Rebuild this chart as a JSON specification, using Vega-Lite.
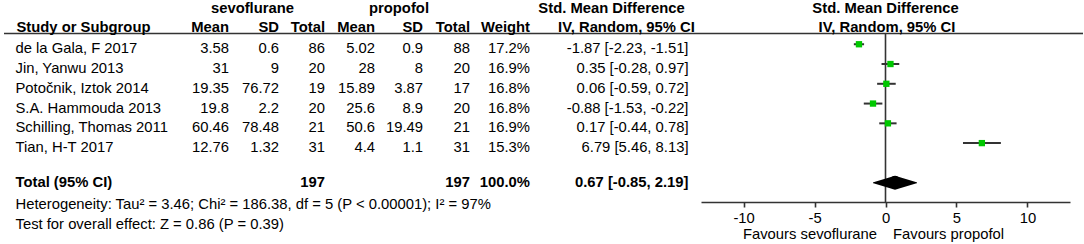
{
  "$schema": "https://vega.github.io/schema/vega-lite/v6.json",
  "padding": {"left": 3, "right": 2, "top": 0, "bottom": 0},
  "spacing": 0,
  "bounds": "flush",
  "config": {
    "view": {"stroke": null},
    "text": {"font": "Liberation Sans", "fontSize": 14.8, "color": "#000"},
    "axis": {"labelFont": "Liberation Sans"}
  },
  "datasets": {
    "studies": [
      {"study": "de la Gala, F 2017", "m1": 3.58, "sd1": 0.6, "n1": 86, "m2": 5.02, "sd2": 0.9, "n2": 88, "weight": 17.2, "smd": -1.87, "lo": -2.23, "hi": -1.51},
      {"study": "Jin, Yanwu 2013", "m1": 31, "sd1": 9, "n1": 20, "m2": 28, "sd2": 8, "n2": 20, "weight": 16.9, "smd": 0.35, "lo": -0.28, "hi": 0.97},
      {"study": "Potočnik, Iztok  2014", "m1": 19.35, "sd1": 76.72, "n1": 19, "m2": 15.89, "sd2": 3.87, "n2": 17, "weight": 16.8, "smd": 0.06, "lo": -0.59, "hi": 0.72},
      {"study": "S.A. Hammouda 2013", "m1": 19.8, "sd1": 2.2, "n1": 20, "m2": 25.6, "sd2": 8.9, "n2": 20, "weight": 16.8, "smd": -0.88, "lo": -1.53, "hi": -0.22},
      {"study": "Schilling, Thomas 2011", "m1": 60.46, "sd1": 78.48, "n1": 21, "m2": 50.6, "sd2": 19.49, "n2": 21, "weight": 16.9, "smd": 0.17, "lo": -0.44, "hi": 0.78},
      {"study": "Tian, H-T 2017", "m1": 12.76, "sd1": 1.32, "n1": 31, "m2": 4.4, "sd2": 1.1, "n2": 31, "weight": 15.3, "smd": 6.79, "lo": 5.46, "hi": 8.13}
    ],
    "total": [
      {"study": "Total (95% CI)", "n1": 197, "n2": 197, "weight": 100, "smd": 0.67, "lo": -0.85, "hi": 2.19}
    ],
    "notes": [
      {"row": "Het", "text": "Heterogeneity: Tau² = 3.46; Chi² = 186.38, df = 5 (P < 0.00001); I² = 97%"},
      {"row": "Test", "text": "Test for overall effect: Z = 0.86 (P = 0.39)"}
    ]
  },
  "hconcat": [
    {
      "width": 225, "height": 202,
      "layer": [
        {"data": {"values": [{}]}, "mark": {"type": "rule", "color": "#333", "strokeWidth": 1.6, "yOffset": 9},
         "encoding": {"y": {"datum": "h2", "scale": {"type": "point", "domain": ["h1","h2","de la Gala, F 2017","Jin, Yanwu 2013","Potočnik, Iztok  2014","S.A. Hammouda 2013","Schilling, Thomas 2011","Tian, H-T 2017","gap","Total (95% CI)","Het","Test"], "range": [4.7, 222.2], "padding": 0}, "axis": null}}},
        {"data": {"values": [{}]}, "mark": {"type": "text", "text": "Study or Subgroup", "fontWeight": "bold", "align": "left", "dx": 12.5, "dy": 3.5},
         "encoding": {"x": {"value": 0}, "y": {"datum": "h2"}}},
        {"data": {"values": [{}]}, "mark": {"type": "text", "text": "Mean", "fontWeight": "bold", "align": "right", "dy": 3.5},
         "encoding": {"x": {"value": "width"}, "y": {"datum": "h2"}}},
        {"data": {"name": "studies"}, "mark": {"type": "text", "align": "left", "dx": 11.5, "dy": 5},
         "encoding": {"x": {"value": 0}, "y": {"field": "study", "type": "nominal"}, "text": {"field": "study", "type": "nominal"}}},
        {"data": {"name": "studies"}, "mark": {"type": "text", "align": "right", "dy": 5},
         "encoding": {"x": {"value": "width"}, "y": {"field": "study", "type": "nominal"}, "text": {"field": "m1", "type": "nominal"}}},
        {"data": {"name": "total"}, "mark": {"type": "text", "align": "left", "dx": 11.5, "fontWeight": "bold"},
         "encoding": {"x": {"value": 0}, "y": {"field": "study", "type": "nominal"}, "text": {"field": "study", "type": "nominal"}}},
        {"data": {"name": "notes"}, "mark": {"type": "text", "align": "left", "dx": 11.5, "dy": 3},
         "encoding": {"x": {"value": 0}, "y": {"field": "row", "type": "nominal"}, "text": {"field": "text", "type": "nominal"}}}
      ]
    },
    {
      "width": 50, "height": 202,
      "layer": [
        {"data": {"values": [{}]}, "mark": {"type": "rule", "color": "#333", "strokeWidth": 1.6, "yOffset": 9},
         "encoding": {"y": {"datum": "h2", "scale": {"type": "point", "domain": ["h1","h2","de la Gala, F 2017","Jin, Yanwu 2013","Potočnik, Iztok  2014","S.A. Hammouda 2013","Schilling, Thomas 2011","Tian, H-T 2017","gap","Total (95% CI)","Het","Test"], "range": [4.7, 222.2], "padding": 0}, "axis": null}}},
        {"data": {"values": [{}]}, "mark": {"type": "text", "text": "sevoflurane", "fontWeight": "bold", "align": "center", "dx": -1.5, "dy": 4.5},
         "encoding": {"y": {"datum": "h1"}}},
        {"data": {"values": [{}]}, "mark": {"type": "text", "text": "SD", "fontWeight": "bold", "align": "right", "dy": 3.5},
         "encoding": {"x": {"value": "width"}, "y": {"datum": "h2"}}},
        {"data": {"name": "studies"}, "mark": {"type": "text", "align": "right", "dy": 5},
         "encoding": {"x": {"value": "width"}, "y": {"field": "study", "type": "nominal"}, "text": {"field": "sd1", "type": "nominal"}}}
      ]
    },
    {
      "width": 46, "height": 202,
      "layer": [
        {"data": {"values": [{}]}, "mark": {"type": "rule", "color": "#333", "strokeWidth": 1.6, "yOffset": 9},
         "encoding": {"y": {"datum": "h2", "scale": {"type": "point", "domain": ["h1","h2","de la Gala, F 2017","Jin, Yanwu 2013","Potočnik, Iztok  2014","S.A. Hammouda 2013","Schilling, Thomas 2011","Tian, H-T 2017","gap","Total (95% CI)","Het","Test"], "range": [4.7, 222.2], "padding": 0}, "axis": null}}},
        {"data": {"values": [{}]}, "mark": {"type": "text", "text": "Total", "fontWeight": "bold", "align": "right", "dy": 3.5},
         "encoding": {"x": {"value": "width"}, "y": {"datum": "h2"}}},
        {"data": {"name": "studies"}, "mark": {"type": "text", "align": "right", "dy": 5},
         "encoding": {"x": {"value": "width"}, "y": {"field": "study", "type": "nominal"}, "text": {"field": "n1", "type": "nominal"}}},
        {"data": {"name": "total"}, "mark": {"type": "text", "align": "right", "fontWeight": "bold"},
         "encoding": {"x": {"value": "width"}, "y": {"field": "study", "type": "nominal"}, "text": {"field": "n1", "type": "nominal"}}}
      ]
    },
    {
      "width": 50, "height": 202,
      "layer": [
        {"data": {"values": [{}]}, "mark": {"type": "rule", "color": "#333", "strokeWidth": 1.6, "yOffset": 9},
         "encoding": {"y": {"datum": "h2", "scale": {"type": "point", "domain": ["h1","h2","de la Gala, F 2017","Jin, Yanwu 2013","Potočnik, Iztok  2014","S.A. Hammouda 2013","Schilling, Thomas 2011","Tian, H-T 2017","gap","Total (95% CI)","Het","Test"], "range": [4.7, 222.2], "padding": 0}, "axis": null}}},
        {"data": {"values": [{}]}, "mark": {"type": "text", "text": "Mean", "fontWeight": "bold", "align": "right", "dy": 3.5},
         "encoding": {"x": {"value": "width"}, "y": {"datum": "h2"}}},
        {"data": {"name": "studies"}, "mark": {"type": "text", "align": "right", "dy": 5},
         "encoding": {"x": {"value": "width"}, "y": {"field": "study", "type": "nominal"}, "text": {"field": "m2", "type": "nominal"}}}
      ]
    },
    {
      "width": 48, "height": 202,
      "layer": [
        {"data": {"values": [{}]}, "mark": {"type": "rule", "color": "#333", "strokeWidth": 1.6, "yOffset": 9},
         "encoding": {"y": {"datum": "h2", "scale": {"type": "point", "domain": ["h1","h2","de la Gala, F 2017","Jin, Yanwu 2013","Potočnik, Iztok  2014","S.A. Hammouda 2013","Schilling, Thomas 2011","Tian, H-T 2017","gap","Total (95% CI)","Het","Test"], "range": [4.7, 222.2], "padding": 0}, "axis": null}}},
        {"data": {"values": [{}]}, "mark": {"type": "text", "text": "propofol", "fontWeight": "bold", "align": "center", "dy": 4.5},
         "encoding": {"y": {"datum": "h1"}}},
        {"data": {"values": [{}]}, "mark": {"type": "text", "text": "SD", "fontWeight": "bold", "align": "right", "dy": 3.5},
         "encoding": {"x": {"value": "width"}, "y": {"datum": "h2"}}},
        {"data": {"name": "studies"}, "mark": {"type": "text", "align": "right", "dy": 5},
         "encoding": {"x": {"value": "width"}, "y": {"field": "study", "type": "nominal"}, "text": {"field": "sd2", "type": "nominal"}}}
      ]
    },
    {
      "width": 47, "height": 202,
      "layer": [
        {"data": {"values": [{}]}, "mark": {"type": "rule", "color": "#333", "strokeWidth": 1.6, "yOffset": 9},
         "encoding": {"y": {"datum": "h2", "scale": {"type": "point", "domain": ["h1","h2","de la Gala, F 2017","Jin, Yanwu 2013","Potočnik, Iztok  2014","S.A. Hammouda 2013","Schilling, Thomas 2011","Tian, H-T 2017","gap","Total (95% CI)","Het","Test"], "range": [4.7, 222.2], "padding": 0}, "axis": null}}},
        {"data": {"values": [{}]}, "mark": {"type": "text", "text": "Total", "fontWeight": "bold", "align": "right", "dy": 3.5},
         "encoding": {"x": {"value": "width"}, "y": {"datum": "h2"}}},
        {"data": {"name": "studies"}, "mark": {"type": "text", "align": "right", "dy": 5},
         "encoding": {"x": {"value": "width"}, "y": {"field": "study", "type": "nominal"}, "text": {"field": "n2", "type": "nominal"}}},
        {"data": {"name": "total"}, "mark": {"type": "text", "align": "right", "fontWeight": "bold"},
         "encoding": {"x": {"value": "width"}, "y": {"field": "study", "type": "nominal"}, "text": {"field": "n2", "type": "nominal"}}}
      ]
    },
    {
      "width": 60, "height": 202,
      "layer": [
        {"data": {"values": [{}]}, "mark": {"type": "rule", "color": "#333", "strokeWidth": 1.6, "yOffset": 9},
         "encoding": {"y": {"datum": "h2", "scale": {"type": "point", "domain": ["h1","h2","de la Gala, F 2017","Jin, Yanwu 2013","Potočnik, Iztok  2014","S.A. Hammouda 2013","Schilling, Thomas 2011","Tian, H-T 2017","gap","Total (95% CI)","Het","Test"], "range": [4.7, 222.2], "padding": 0}, "axis": null}}},
        {"data": {"values": [{}]}, "mark": {"type": "text", "text": "Weight", "fontWeight": "bold", "align": "right", "dy": 3.5},
         "encoding": {"x": {"value": "width"}, "y": {"datum": "h2"}}},
        {"data": {"name": "studies"}, "transform": [{"calculate": "format(datum.weight, '.1f') + '%'", "as": "wtxt"}],
         "mark": {"type": "text", "align": "right", "dy": 5},
         "encoding": {"x": {"value": "width"}, "y": {"field": "study", "type": "nominal"}, "text": {"field": "wtxt", "type": "nominal"}}},
        {"data": {"name": "total"}, "transform": [{"calculate": "format(datum.weight, '.1f') + '%'", "as": "wtxt"}],
         "mark": {"type": "text", "align": "right", "fontWeight": "bold"},
         "encoding": {"x": {"value": "width"}, "y": {"field": "study", "type": "nominal"}, "text": {"field": "wtxt", "type": "nominal"}}}
      ]
    },
    {
      "width": 171, "height": 202,
      "layer": [
        {"data": {"values": [{}]}, "mark": {"type": "rule", "color": "#333", "strokeWidth": 1.6, "yOffset": 9},
         "encoding": {"y": {"datum": "h2", "scale": {"type": "point", "domain": ["h1","h2","de la Gala, F 2017","Jin, Yanwu 2013","Potočnik, Iztok  2014","S.A. Hammouda 2013","Schilling, Thomas 2011","Tian, H-T 2017","gap","Total (95% CI)","Het","Test"], "range": [4.7, 222.2], "padding": 0}, "axis": null}}},
        {"data": {"values": [{}]}, "mark": {"type": "text", "text": "Std. Mean Difference", "fontWeight": "bold", "align": "center", "dx": -4, "dy": 4.5},
         "encoding": {"y": {"datum": "h1"}}},
        {"data": {"values": [{}]}, "mark": {"type": "text", "text": "IV, Random, 95% CI", "fontWeight": "bold", "align": "center", "dx": 11, "dy": 3.5},
         "encoding": {"y": {"datum": "h2"}}},
        {"data": {"name": "studies"}, "transform": [{"calculate": "datum.smd + ' [' + datum.lo + ', ' + datum.hi + ']'", "as": "ci"}],
         "mark": {"type": "text", "align": "right", "dx": -12.5, "dy": 5},
         "encoding": {"x": {"value": "width"}, "y": {"field": "study", "type": "nominal"}, "text": {"field": "ci", "type": "nominal"}}},
        {"data": {"name": "total"}, "transform": [{"calculate": "datum.smd + ' [' + datum.lo + ', ' + datum.hi + ']'", "as": "ci"}],
         "mark": {"type": "text", "align": "right", "dx": -12.5, "fontWeight": "bold"},
         "encoding": {"x": {"value": "width"}, "y": {"field": "study", "type": "nominal"}, "text": {"field": "ci", "type": "nominal"}}}
      ]
    },
    {
      "width": 369, "height": 202,
      "layer": [
        {"data": {"values": [{}]}, "mark": {"type": "rule", "color": "#333", "strokeWidth": 1.6, "yOffset": 9},
         "encoding": {"y": {"datum": "h2", "scale": {"type": "point", "domain": ["h1","h2","de la Gala, F 2017","Jin, Yanwu 2013","Potočnik, Iztok  2014","S.A. Hammouda 2013","Schilling, Thomas 2011","Tian, H-T 2017","gap","Total (95% CI)","Het","Test"], "range": [4.7, 222.2], "padding": 0}, "axis": null}}},
        {"data": {"values": [{}]}, "mark": {"type": "rule", "color": "#333", "strokeWidth": 1.6, "yOffset": 9},
         "encoding": {
           "x": {"datum": 0, "type": "quantitative", "scale": {"domain": [-13, 13], "nice": false, "zero": false},
                 "axis": {"values": [-10, -5, 0, 5, 10], "title": null, "grid": false, "domainColor": "#333", "domainWidth": 1.6, "tickColor": "#333", "tickWidth": 1.6, "tickSize": 5, "labelPadding": 3, "labelFontSize": 14.8, "labelColor": "#000", "labelExpr": "'' + datum.value"}},
           "y": {"datum": "h2"}, "y2": {"value": "height"}}},
        {"data": {"values": [{}]}, "mark": {"type": "text", "text": "Std. Mean Difference", "fontWeight": "bold", "align": "center", "dy": 4.5},
         "encoding": {"x": {"datum": 0, "type": "quantitative"}, "y": {"datum": "h1"}}},
        {"data": {"values": [{}]}, "mark": {"type": "text", "text": "IV, Random, 95% CI", "fontWeight": "bold", "align": "center", "dx": 1.5, "dy": 3.5},
         "encoding": {"x": {"datum": 0, "type": "quantitative"}, "y": {"datum": "h2"}}},
        {"data": {"name": "studies"}, "mark": {"type": "rule", "color": "#333", "strokeWidth": 2},
         "encoding": {"x": {"field": "lo", "type": "quantitative"}, "x2": {"field": "hi"}, "y": {"field": "study", "type": "nominal"}}},
        {"data": {"name": "studies"}, "mark": {"type": "square", "filled": true, "color": "#00C800", "opacity": 1, "size": 40},
         "encoding": {"x": {"field": "smd", "type": "quantitative"}, "y": {"field": "study", "type": "nominal"}}},
        {"data": {"name": "total"}, "transform": [{"fold": ["lo", "smd", "hi"], "as": ["pt", "val"]}],
         "mark": {"type": "trail", "color": "#000"},
         "encoding": {"x": {"field": "val", "type": "quantitative"}, "y": {"field": "study", "type": "nominal"},
                      "size": {"condition": {"test": "datum.pt === 'smd'", "value": 14}, "value": 0}}},
        {"data": {"values": [{}]}, "mark": {"type": "text", "text": "Favours sevoflurane", "align": "right", "dx": -8.5, "dy": 33},
         "encoding": {"x": {"datum": 0, "type": "quantitative"}, "y": {"value": "height"}}},
        {"data": {"values": [{}]}, "mark": {"type": "text", "text": "Favours propofol", "align": "left", "dx": 7.5, "dy": 33},
         "encoding": {"x": {"datum": 0, "type": "quantitative"}, "y": {"value": "height"}}}
      ]
    },
    {
      "width": 13, "height": 202,
      "data": {"values": [{}]},
      "mark": {"type": "rule", "color": "#333", "strokeWidth": 1.6, "yOffset": 9},
      "encoding": {"y": {"datum": "h2", "scale": {"type": "point", "domain": ["h1","h2","de la Gala, F 2017","Jin, Yanwu 2013","Potočnik, Iztok  2014","S.A. Hammouda 2013","Schilling, Thomas 2011","Tian, H-T 2017","gap","Total (95% CI)","Het","Test"], "range": [4.7, 222.2], "padding": 0}, "axis": null}}
    }
  ]
}
